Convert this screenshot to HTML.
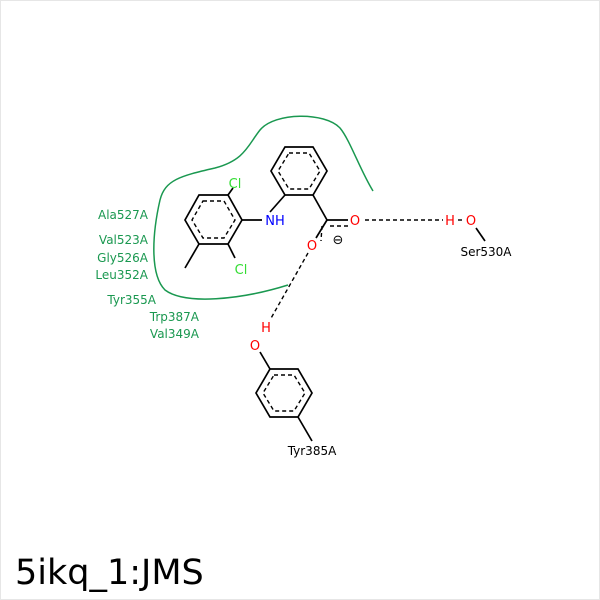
<!DOCTYPE html>
<html><head><meta charset="utf-8"><style>body{margin:0;background:#fff}svg{display:block}text{font-family:"DejaVu Sans","Liberation Sans",sans-serif}</style></head><body>
<svg width="600" height="600" viewBox="0 0 600 600" xmlns="http://www.w3.org/2000/svg">
<rect x="0.5" y="0.5" width="599" height="599" fill="#fff" stroke="#e6e6e6"/>
<path d="M373,191 C360,170 350,140 340,128 C325,112 275,112 260,130 C248,145 245,160 215,168 C180,176 165,180 160,200 C152,235 150,275 165,290 C185,305 240,300 288,285" fill="none" stroke="#1a9850" stroke-width="1.5"/>
<g stroke="#000" stroke-width="1.7" fill="none">
<polygon points="285,147 313,147 327,171 313,195 285,195 271,171"/>
<polygon points="199,195 228,195 242,220 228,244 199,244 185,220"/>
<polygon points="270,369 298,369 312,393 298,417 270,417 256,393"/>
<line x1="313" y1="195" x2="327" y2="220"/><line x1="285" y1="195" x2="270" y2="212"/>
<line x1="242" y1="220" x2="262" y2="220"/><line x1="199" y1="244" x2="185" y2="268"/>
<line x1="228" y1="195" x2="233" y2="188"/><line x1="228" y1="244" x2="235" y2="258"/>
<line x1="327" y1="220" x2="348" y2="220"/><line x1="327" y1="220" x2="316" y2="238"/>
<line x1="270" y1="369" x2="260" y2="352"/><line x1="298" y1="417" x2="312" y2="441"/>
<line x1="476" y1="228" x2="485" y2="241"/>
</g>
<g stroke="#000" stroke-width="1.4" fill="none" stroke-dasharray="4,3">
<polygon points="289,153 309,153 320,171 309,189 289,189 278,171"/>
<polygon points="203,201 224,201 235,220 224,238 203,238 192,220"/>
<polygon points="274,375 294,375 305,393 294,411 274,411 263,393"/>
<line x1="330" y1="226" x2="348" y2="226"/><line x1="322" y1="226" x2="321" y2="241"/>
<line x1="365" y1="220" x2="443" y2="220"/><line x1="308" y1="253" x2="270" y2="320"/>
<line x1="458" y1="220" x2="463" y2="220"/>
</g>
<g font-size="13" text-anchor="middle">
<text x="275" y="225" fill="#0000ff">NH</text>
<text x="235" y="188" fill="#33dd33">Cl</text>
<text x="241" y="274" fill="#33dd33">Cl</text>
<text x="355" y="225" fill="#ff0000">O</text>
<text x="312" y="250" fill="#ff0000">O</text>
<text x="338" y="244" fill="#000">⊖</text>
<text x="450" y="225" fill="#ff0000">H</text>
<text x="471" y="225" fill="#ff0000">O</text>
<text x="266" y="332" fill="#ff0000">H</text>
<text x="255" y="350" fill="#ff0000">O</text>
</g>
<g font-size="12" fill="#000" text-anchor="middle">
<text x="486" y="256">Ser530A</text><text x="312" y="455">Tyr385A</text>
</g>
<g font-size="12" fill="#1a9850" text-anchor="end">
<text x="148" y="219">Ala527A</text><text x="148" y="244">Val523A</text>
<text x="148" y="262">Gly526A</text><text x="148" y="279">Leu352A</text>
<text x="156" y="304">Tyr355A</text><text x="199" y="321">Trp387A</text>
<text x="199" y="338">Val349A</text>
</g>
<text x="15" y="584" font-size="35" fill="#000">5ikq_1:JMS</text>
</svg>
</body></html>
